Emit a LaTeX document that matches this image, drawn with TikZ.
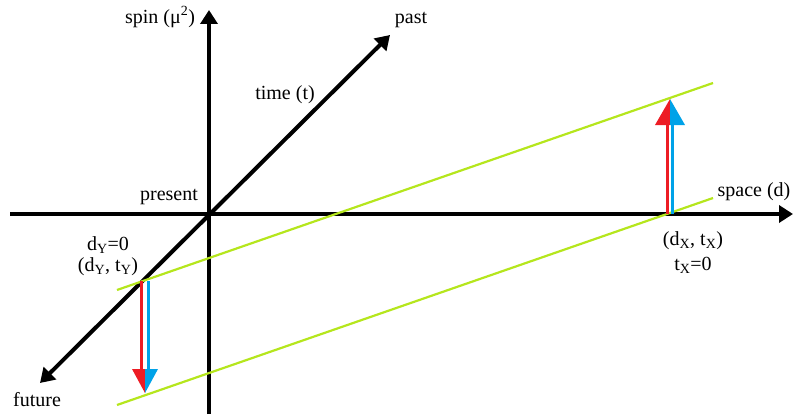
\documentclass[tikz,border=0pt]{standalone}
\usepackage{fontspec}
\setmainfont{Liberation Serif}
\usetikzlibrary{arrows.meta}
\definecolor{spinred}{HTML}{ED1C24}
\definecolor{spinblue}{HTML}{00A2E8}
\definecolor{worldgreen}{HTML}{B5E61D}

\begin{document}
\begin{tikzpicture}[x=1pt,y=-1pt,font=\fontsize{20}{24}\selectfont]
  \tikzstyle{axis}=[-{Triangle[width=17pt,length=14pt]}, line width=4pt, draw=black]
  \tikzstyle{bothaxis}=[{Triangle[width=17pt,length=14pt]}-{Triangle[width=17pt,length=14pt]}, line width=4pt, draw=black]
  \tikzstyle{worldline}=[line width=2.2pt, draw=worldgreen]
  \tikzstyle{redshaft}=[line width=3pt, draw=spinred]
  \tikzstyle{blueshaft}=[line width=3pt, draw=spinblue]
  \tikzstyle{redhead}=[fill=spinred]
  \tikzstyle{bluehead}=[fill=spinblue]
  \tikzstyle{label}=[inner sep=1pt, align=center]

  \path[use as bounding box] (0,0) rectangle (794,417);

  % axes
  \coordinate (origin) at (209,214);
  \coordinate (spinlow) at (209,414);
  \coordinate (spintop) at (209,10);
  \coordinate (spaceleft) at (10,214);
  \coordinate (spaceright) at (793,214);
  \coordinate (future) at (40,383);
  \coordinate (past) at (390,35);

  \draw[axis] (spinlow) -- (spintop);
  \draw[axis] (spaceleft) -- (spaceright);
  \draw[bothaxis] (future) -- (past);

  % world lines
  \coordinate (upleft) at (117,290);
  \coordinate (upright) at (713,83);
  \coordinate (lowleft) at (117,405);
  \coordinate (lowright) at (713,198);
  \draw[worldline] (upleft) -- (upright);
  \draw[worldline] (lowleft) -- (lowright);

  % spin arrows at X (up)
  \coordinate (xtip) at (670,99);
  \coordinate (xredbase) at (667.5,214);
  \coordinate (xredneck) at (667.5,125);
  \coordinate (xbluebase) at (672.5,214);
  \coordinate (xblueneck) at (672.5,125);
  \coordinate (xheadmid) at (670,125);
  \coordinate (xheadleft) at (655,125);
  \coordinate (xheadright) at (685,125);
  \draw[redshaft] (xredbase) -- (xredneck);
  \draw[blueshaft] (xbluebase) -- (xblueneck);
  \fill[redhead] (xtip) -- (xheadleft) -- (xheadmid) -- cycle;
  \fill[bluehead] (xtip) -- (xheadright) -- (xheadmid) -- cycle;

  % spin arrows at Y (down)
  \coordinate (ytip) at (145,393);
  \coordinate (yredbase) at (141.5,281);
  \coordinate (yredneck) at (141.5,369);
  \coordinate (ybluebase) at (148,281);
  \coordinate (yblueneck) at (148,369);
  \coordinate (yheadmid) at (145,369);
  \coordinate (yheadleft) at (132,369);
  \coordinate (yheadright) at (158,369);
  \draw[redshaft] (yredbase) -- (yredneck);
  \draw[blueshaft] (ybluebase) -- (yblueneck);
  \fill[redhead] (ytip) -- (yheadleft) -- (yheadmid) -- cycle;
  \fill[bluehead] (ytip) -- (yheadright) -- (yheadmid) -- cycle;

  % labels
  \node[label] (spinlabel) at (160,17) {spin (μ\textsuperscript{2})};
  \node[label] (pastlabel) at (411,20) {past};
  \node[label] (timelabel) at (285,95) {time (t)};
  \node[label] (presentlabel) at (169,197) {present};
  \node[label] (spacelabel) at (754,192) {space (d)};
  \node[label] (xpoint) at (693,241) {(d\textsubscript{X}, t\textsubscript{X})};
  \node[label] (xzero) at (693,265) {t\textsubscript{X}=0};
  \node[label] (yzero) at (108,245) {d\textsubscript{Y}=0};
  \node[label] (ypoint) at (108,267) {(d\textsubscript{Y}, t\textsubscript{Y})};
  \node[label] (futurelabel) at (37,400) {future};
\end{tikzpicture}
\end{document}
